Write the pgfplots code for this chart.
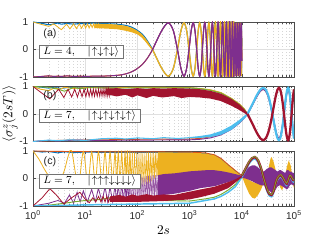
\documentclass[border=0pt]{standalone}
\usepackage{fontspec}
\setmainfont{Liberation Sans}
\usepackage{pgfplots}
\usepackage{pgfplotstable}
\pgfplotsset{compat=1.18}
\definecolor{mblue}{RGB}{0,114,189}
\definecolor{morange}{RGB}{217,83,25}
\definecolor{myellow}{RGB}{237,177,32}
\definecolor{mpurple}{RGB}{126,47,142}
\definecolor{mgreen}{RGB}{119,172,48}
\definecolor{mcyan}{RGB}{77,190,238}
\definecolor{mred}{RGB}{162,20,47}
\pgfplotstableread{
t up dn
1 1 -1
1.5 0.95 -0.98
2 0.9 -0.96
2.5 0.93 -0.98
3 0.96 -0.97
3.5 0.92 -0.98
4.5 0.95 -0.96
6 0.92 -0.98
8 0.95 -0.97
10 0.93 -0.98
14 0.96 -0.97
20 0.94 -0.97
35 0.93 -0.95
50 0.9 -0.92
65 0.86 -0.866
80 0.8 -0.8
95 0.72 -0.72
110 0.64 -0.632
125 0.55 -0.54
140 0.44 -0.43
155 0.32 -0.32
170 0.2 -0.2
195 0 0
292.5 -0.686 0.686
390 -0.97 0.97
487.5 -0.686 0.686
585 0 0
682.5 0.686 -0.686
780 0.97 -0.97
877.5 0.686 -0.686
975 0 0
1072.5 -0.686 0.686
1170 -0.97 0.97
1267.5 -0.686 0.686
1365 0 0
1462.5 0.686 -0.686
1560 0.97 -0.97
1657.5 0.686 -0.686
1755 0 0
1852.5 -0.686 0.686
1950 -0.97 0.97
2047.5 -0.686 0.686
2145 0 0
2242.5 0.686 -0.686
2340 0.97 -0.97
2437.5 0.686 -0.686
2535 0 0
2632.5 -0.686 0.686
2730 -0.97 0.97
2827.5 -0.686 0.686
2925 0 0
3022.5 0.686 -0.686
3120 0.97 -0.97
3217.5 0.686 -0.686
3315 0 0
3412.5 -0.686 0.686
3510 -0.97 0.97
3607.5 -0.686 0.686
3705 0 0
3802.5 0.686 -0.686
3900 0.97 -0.97
3997.5 0.686 -0.686
4095 0 0
4192.5 -0.686 0.686
4290 -0.97 0.97
4387.5 -0.686 0.686
4485 0 0
4582.5 0.686 -0.686
4680 0.97 -0.97
4777.5 0.686 -0.686
4875 0 0
4972.5 -0.686 0.686
5070 -0.97 0.97
5167.5 -0.686 0.686
5265 0 0
5362.5 0.686 -0.686
5460 0.97 -0.97
5557.5 0.686 -0.686
5655 0 0
5752.5 -0.686 0.686
5850 -0.97 0.97
5947.5 -0.686 0.686
6045 0 0
6142.5 0.686 -0.686
6240 0.97 -0.97
6337.5 0.686 -0.686
6435 0 0
6532.5 -0.686 0.686
6630 -0.97 0.97
6727.5 -0.686 0.686
6825 0 0
6922.5 0.686 -0.686
7020 0.97 -0.97
7117.5 0.686 -0.686
7215 0 0
7312.5 -0.686 0.686
7410 -0.97 0.97
7507.5 -0.686 0.686
7605 0 0
7702.5 0.686 -0.686
7800 0.97 -0.97
7897.5 0.686 -0.686
7995 0 0
8092.5 -0.686 0.686
8190 -0.97 0.97
8287.5 -0.686 0.686
8385 0 0
8482.5 0.686 -0.686
8580 0.97 -0.97
8677.5 0.686 -0.686
8775 0 0
8872.5 -0.686 0.686
8970 -0.97 0.97
9067.5 -0.686 0.686
9165 0 0
9262.5 0.686 -0.686
9360 0.97 -0.97
9457.5 0.686 -0.686
9555 0 0
9652.5 -0.686 0.686
9750 -0.97 0.97
9847.5 -0.686 0.686
9945 0 0
10000 0.416 -0.416
}\tabA
\pgfplotstableread{
t r c p
12850 0 0 0
16062.5 -0.364 0.364 0.345
19275 -0.672 0.672 0.636
22487.5 -0.878 0.878 0.832
25700 -0.95 0.95 0.9
28912.5 -0.878 0.878 0.832
32125 -0.672 0.672 0.636
35337.5 -0.364 0.364 0.345
38550 0 0 0
41762.5 0.364 -0.364 -0.345
44975 0.672 -0.672 -0.636
48187.5 0.878 -0.878 -0.832
51400 0.95 -0.95 -0.9
54612.5 0.878 -0.878 -0.832
57825 0.672 -0.672 -0.636
61037.5 0.364 -0.364 -0.345
64250 0 0 0
67462.5 -0.364 0.364 0.345
70675 -0.672 0.672 0.636
73887.5 -0.878 0.878 0.832
77100 -0.95 0.95 0.9
80312.5 -0.878 0.878 0.832
83525 -0.672 0.672 0.636
86737.5 -0.364 0.364 0.345
89950 0 0 0
93162.5 0.364 -0.364 -0.345
96375 0.672 -0.672 -0.636
99587.5 0.878 -0.878 -0.832
100000 0.895 -0.895 -0.848
}\tabB
\pgfplotstableread{
t v g c
10000 0.1 0.11 0.05
11750 0.35 0.37 0.29
13800 0.6 0.62 0.54
15850 0.74 0.76 0.68
17780 0.78 0.8 0.72
20420 0.66 0.68 0.6
23440 0.36 0.38 0.3
26300 0.0 0.02 -0.06
30200 -0.38 -0.36 -0.44
33880 -0.57 -0.55 -0.63
37150 -0.6 -0.58 -0.66
40740 -0.45 -0.43 -0.51
44670 -0.15 -0.13 -0.21
47860 0.0 0.02 -0.06
52480 0.1 0.12 0.04
56230 0.12 0.14 0.06
61660 0.02 0.04 -0.04
67610 -0.12 -0.1 -0.18
72440 -0.19 -0.17 -0.25
77620 -0.05 -0.03 -0.11
83180 0.1 0.12 0.04
89130 0.05 0.07 -0.01
95500 -0.05 -0.03 -0.11
100000 -0.08 -0.06 -0.14
}\tabP
\begin{document}
\begin{tikzpicture}
\useasboundingbox (0pt,0pt) rectangle (245.25pt,183.75pt);
% ---------------- (a)
\begin{axis}[xmode=log, xmin=1, xmax=100000, ymin=-1, ymax=1,
  anchor=south west, at={(24.75pt,126pt)}, scale only axis, width=195.75pt, height=41.25pt,
  xtick={1,10,100,1000,10000,100000}, xticklabels={},
  ytick={-1,0,1}, yticklabels={-1,0,1},
  grid=both,
  major grid style={draw=black!12, line width=0.3pt},
  minor grid style={draw=black!16, line width=0.3pt, dotted},
  axis line style={draw=black!70, line width=0.5pt},
  tick style={draw=black!70, line width=0.4pt},
  major tick length=2.4pt, minor tick length=1.4pt,
  tick label style={font=\fontsize{7.5}{8}\selectfont, text=black!85}]
\addplot[mblue, line width=0.8pt, smooth] table[x=t,y=up]{\tabA};
\addplot[morange, line width=0.8pt, smooth] table[x=t,y=dn]{\tabA};
\addplot[myellow, line width=0.6pt] coordinates {(1,1) (1.4,0.92) (2,0.84) (2.5,0.93) (3.5,0.72) (4.4,0.92) (5.1,0.75) (6,0.93) (6.8,0.76) (7.7,0.93) (8.5,0.77) (9.4,0.93) (10.2,0.78) (11.1,0.93) (11.9,0.78) (12.8,0.93) (13.6,0.8) (14.5,0.93) (15.3,0.8) (16.2,0.93) (17,0.8) (18,0.93) (19,0.8) (20,0.93)};
\addplot[fill=myellow, draw=none] coordinates {(15,0.93) (25,0.93) (40,0.91) (60,0.86) (80,0.78) (100,0.68) (120,0.57) (140,0.43) (160,0.28) (180,0.12) (195,0.02) (195,-0.04) (180,0.04) (160,0.16) (140,0.3) (120,0.44) (100,0.55) (80,0.62) (60,0.68) (40,0.74) (25,0.76) (15,0.78)};
\addplot[myellow, line width=1.0pt, smooth, skip coords between index={0}{22}] table[x=t,y=up]{\tabA};
\addplot[mpurple, line width=0.7pt, smooth] table[x=t,y=dn]{\tabA};
\addplot[mpurple, line width=0.85pt, smooth, skip coords between index={0}{22}] table[x=t,y=dn]{\tabA};
\node[font=\fontsize{8}{9}\selectfont, text=black!85] at (rel axis cs:0.065,0.78) {(a)};
\node[draw=black!55, fill=white, line width=0.5pt, font=\fontsize{8}{9}\selectfont, inner xsep=3pt, inner ysep=1pt, anchor=west, minimum height=10pt] at (rel axis cs:0.023,0.46) {$L=4,\quad|\!\uparrow\downarrow\uparrow\downarrow\rangle$\hspace{5pt}};
\end{axis}
% ---------------- (b)
\begin{axis}[xmode=log, xmin=1, xmax=100000, ymin=-1, ymax=1,
  anchor=south west, at={(24.75pt,77.625pt)}, scale only axis, width=195.75pt, height=41.25pt,
  xtick={1,10,100,1000,10000,100000}, xticklabels={},
  ytick={-1,0,1}, yticklabels={-1,0,1},
  grid=both,
  major grid style={draw=black!12, line width=0.3pt},
  minor grid style={draw=black!16, line width=0.3pt, dotted},
  axis line style={draw=black!70, line width=0.5pt},
  tick style={draw=black!70, line width=0.4pt},
  major tick length=2.4pt, minor tick length=1.4pt,
  tick label style={font=\fontsize{7.5}{8}\selectfont, text=black!85},
  ylabel={$\langle\sigma_j^z(2sT)\rangle$},
  ylabel style={at={(axis description cs:-0.088,0.5)}, anchor=center, font=\fontsize{10}{12}\selectfont}]
\addplot[mblue, line width=0.7pt] coordinates {(1,1) (1.5,0.97) (2,0.94) (2.5,0.97) (3.5,0.93) (5,0.97) (7,0.95) (10,0.97) (20,0.96) (100,0.96) (1000,0.95) (1585,0.92) (2512,0.87) (3981,0.77) (6310,0.56) (8913,0.36) (11220,0.17) (12850,0)};
\addplot[mblue, line width=0.7pt, smooth] table[x=t,y=r]{\tabB};
\addplot[morange, line width=0.7pt] coordinates {(1,-1) (2,-0.97) (5,-0.95) (20,-0.94) (100,-0.92) (1000,-0.91) (1585,-0.89) (2512,-0.83) (3981,-0.71) (6310,-0.5) (8913,-0.3) (11220,-0.12) (12850,0)};
\addplot[morange, line width=0.7pt, smooth] table[x=t,y=p]{\tabB};
\addplot[myellow, line width=0.7pt] coordinates {(1,1) (1.4,0.9) (2,0.85) (2.6,0.95) (3.3,0.9) (4,0.97) (6,0.93) (10,0.96) (30,0.95) (100,0.97) (1000,0.96) (1585,0.93) (2512,0.88) (3981,0.78) (6310,0.57) (8913,0.37) (11220,0.18) (12850,0)};
\addplot[myellow, line width=0.7pt, smooth] table[x=t,y=r]{\tabB};
\addplot[mpurple, line width=0.7pt] coordinates {(1,-1) (2,-0.96) (3,-0.98) (6,-0.95) (20,-0.96) (100,-0.95) (1000,-0.94) (1585,-0.92) (2512,-0.87) (3981,-0.76) (6310,-0.56) (8913,-0.34) (11220,-0.14) (12850,0)};
\addplot[mpurple, line width=1.2pt, smooth] table[x=t,y=p]{\tabB};
\addplot[mgreen, line width=0.7pt] coordinates {(1,1) (2,0.97) (3,0.9) (4,0.83) (5,0.9) (6,0.97) (8,0.92) (12,0.96) (30,0.94) (100,0.95) (1000,0.95) (1585,0.92) (2512,0.86) (3981,0.76) (6310,0.55) (8913,0.35) (11220,0.16) (12850,0)};
\addplot[mcyan, line width=0.8pt] coordinates {(1,-1) (1.5,-0.97) (2,-0.95) (3,-0.97) (5,-0.94) (10,-0.96) (20,-0.9) (40,-0.88) (60,-0.91) (100,-0.87) (200,-0.9) (316,-0.86) (600,-0.89) (1000,-0.86)};
\addplot[fill=mcyan, draw=none] coordinates {(1000,-0.84) (1585,-0.8) (2512,-0.74) (3981,-0.62) (6310,-0.42) (8913,-0.22) (11220,-0.06) (12850,0.03) (12850,-0.05) (11220,-0.17) (8913,-0.35) (6310,-0.58) (3981,-0.76) (2512,-0.84) (1585,-0.87) (1000,-0.88)};
\addplot[mcyan, line width=1.6pt, smooth] table[x=t,y=c]{\tabB};
\addplot[mred, line width=0.6pt] coordinates {(1,1) (1.5,0.75) (2.1,0.55) (3.1,0.9) (3.9,0.6) (4.7,0.9) (5.5,0.62) (6.3,0.9) (7.1,0.62) (7.9,0.9) (8.7,0.63) (9.5,0.9) (10.3,0.63) (11.1,0.9) (11.9,0.64) (12.7,0.9) (13.5,0.64) (14.3,0.9) (15.1,0.65) (16,0.9) (17,0.65) (18,0.9) (19,0.65) (20,0.9) (21,0.66) (22,0.9) (23,0.66) (24,0.91) (25,0.67) (26,0.91) (27,0.67) (28,0.91) (29,0.68) (30,0.91)};
\addplot[fill=mred, draw=none] coordinates {(25,0.92) (40,0.94) (60,0.9) (100,0.94) (150,0.91) (200,0.94) (316,0.92) (500,0.94) (1000,0.92) (1585,0.9) (2512,0.84) (3981,0.74) (6310,0.55) (8913,0.35) (11220,0.16) (12850,0.04) (12850,-0.04) (11220,0.03) (8913,0.15) (6310,0.3) (3981,0.47) (2512,0.56) (1585,0.6) (1000,0.62) (700,0.58) (500,0.65) (300,0.6) (200,0.66) (150,0.58) (100,0.68) (80,0.6) (60,0.7) (40,0.64) (25,0.72)};
\addplot[mred, line width=1.7pt, smooth] table[x=t,y=r]{\tabB};
\node[font=\fontsize{8}{9}\selectfont, text=black!85] at (rel axis cs:0.065,0.83) {(b)};
\node[draw=black!55, fill=white, line width=0.5pt, font=\fontsize{8}{9}\selectfont, inner xsep=3pt, inner ysep=1pt, anchor=west, minimum height=10pt] at (rel axis cs:0.023,0.465) {$L=7,\quad|\!\uparrow\downarrow\uparrow\downarrow\uparrow\downarrow\uparrow\rangle$\hspace{5pt}};
\end{axis}
% ---------------- (c)
\begin{axis}[xmode=log, xmin=1, xmax=100000, ymin=-1, ymax=1,
  anchor=south west, at={(24.75pt,29.25pt)}, scale only axis, width=195.75pt, height=41.25pt,
  xtick={1,10,100,1000,10000,100000},
  xticklabels={10\textsuperscript{0},10\textsuperscript{1},10\textsuperscript{2},10\textsuperscript{3},10\textsuperscript{4},10\textsuperscript{5}},
  ytick={-1,0,1}, yticklabels={-1,0,1},
  grid=both,
  major grid style={draw=black!12, line width=0.3pt},
  minor grid style={draw=black!16, line width=0.3pt, dotted},
  axis line style={draw=black!70, line width=0.5pt},
  tick style={draw=black!70, line width=0.4pt},
  major tick length=2.4pt, minor tick length=1.4pt,
  tick label style={font=\fontsize{7.5}{8}\selectfont, text=black!85},
  xlabel={$2s$},
  xlabel style={at={(axis description cs:0.5,0)}, anchor=center, yshift=-18pt, font=\fontsize{10}{12}\selectfont}]
\addplot[mblue, line width=0.7pt] coordinates {(1,1) (1.5,0.96) (2,0.98) (3,0.93) (4,0.97) (6,0.94) (10,0.96) (20,0.95) (100,0.95) (1000,0.94) (2000,0.91) (3000,0.84) (4000,0.7) (5500,0.48) (7500,0.27) (10000,0.09)};
\addplot[mblue, line width=0.7pt, smooth] table[x=t,y=v]{\tabP};
\addplot[morange, line width=0.7pt] coordinates {(1,1) (2,0.99) (5,0.98) (20,0.97) (100,0.97) (1000,0.96) (2000,0.93) (3000,0.86) (4000,0.73) (5500,0.5) (7500,0.29) (10000,0.1)};
\addplot[morange, line width=0.7pt, smooth] table[x=t,y=v]{\tabP};
\addplot[myellow, line width=0.6pt, smooth] coordinates {(1,1) (1.3,0.7) (1.7,0.3) (2.3,-0.05) (3.2,-0.1) (4,0.3) (4.7,0.8) (5.5,1.0) (7.35,-0.25) (9.2,0.98) (11.25,-0.2) (13.3,0.97) (15.6,-0.2) (17.9,0.97) (21,-0.15) (24,0.96) (27,-0.15) (29.9,0.96) (33.6,-0.1) (37.3,0.95) (40,-0.1) (43,0.95) (46.5,-0.1) (50,0.95) (54,-0.1) (58,0.95) (61,-0.1) (64.3,0.95) (68,-0.15) (72,0.95) (76,-0.2) (80,0.95)};
\addplot[myellow, line width=0.4pt] coordinates {(80,0.95) (84,-0.2) (88,0.95) (92.5,-0.25) (97,0.95) (102,-0.25) (107,0.95) (112,-0.25) (117,0.95) (122,-0.25) (127,0.95) (133,-0.25) (139,0.95) (145,-0.2) (151,0.95) (157,-0.2) (163,0.95) (170,-0.15) (177,0.95) (184,-0.1) (191,0.95) (198,-0.05) (205,0.95) (213,0.0) (221,0.95) (229,0.05) (237,0.95) (245,0.1) (253,0.95)};
\addplot[fill=myellow, draw=none] coordinates {(250,0.95) (1000,0.94) (2000,0.91) (3000,0.84) (4000,0.7) (5500,0.47) (7500,0.26) (10000,0.08) (10000,0.0) (7500,0.0) (250,0.0)};
\addplot[fill=myellow, draw=none] coordinates {(10000,0.08) (11750,-0.25) (13800,-0.55) (15850,-0.7) (17780,-0.73) (20420,-0.6) (23440,-0.4) (26300,-0.15) (30200,0.0) (26300,-0.05) (23440,-0.1) (20420,-0.15) (17780,-0.15) (15850,-0.12) (13800,-0.05)};
\addplot[fill=myellow, draw=none] coordinates {(30200,0.0) (33110,0.45) (35480,0.72) (37150,0.78) (40740,0.6) (44670,0.3) (46770,0.0) (40740,0.1) (37150,0.15) (33110,0.1)};
\addplot[fill=myellow, draw=none] coordinates {(50120,0.0) (53700,-0.3) (58880,-0.43) (63100,-0.3) (67610,0.0) (58880,-0.1) (53700,-0.08)};
\addplot[fill=myellow, draw=none] coordinates {(67610,0.0) (72440,0.4) (79430,0.66) (87100,0.45) (93330,0.0) (87100,0.1) (79430,0.15) (72440,0.1)};
\addplot[fill=myellow, draw=none] coordinates {(93330,0.0) (96600,-0.25) (100000,-0.35) (100000,-0.05) (96600,-0.05)};
\addplot[mpurple, line width=0.6pt] coordinates {(1,-1) (2,-0.9) (3,-0.8) (4,-0.9) (5,-0.6) (6,-0.9) (7,-0.5) (8,-0.85) (9.2,-0.45) (11,-0.85) (13.3,-0.4) (15.6,-0.85) (17.9,-0.35) (21,-0.85) (24,-0.3) (27,-0.85) (29.9,-0.3) (33.6,-0.85) (37.3,-0.25) (40,-0.85) (43,-0.2) (46.5,-0.85) (50,-0.15) (54,-0.85) (58,-0.1) (61,-0.85) (64.3,-0.05) (68,-0.85) (72,0.0)};
\addplot[mpurple!80, line width=0.4pt] coordinates {(72,0.0) (76,-0.85) (80,0.0) (84,-0.85) (88,0.02) (92.5,-0.85) (97,0.03) (102,-0.82) (107,0.05) (112,-0.8) (117,0.06) (122,-0.8) (127,0.07) (133,-0.78) (139,0.08) (145,-0.76) (151,0.09) (157,-0.74) (163,0.1) (170,-0.72) (177,0.1) (184,-0.7) (191,0.11) (198,-0.68) (205,0.11) (213,-0.66) (221,0.12) (229,-0.64) (237,0.12) (245,-0.62) (253,0.12)};
\addplot[fill=mpurple, draw=none] coordinates {(250,0.12) (316,0.16) (525,0.19) (1000,0.26) (2000,0.3) (3000,0.3) (4000,0.27) (5500,0.22) (7500,0.16) (10000,0.1) (10000,0.04) (7500,-0.05) (5500,-0.13) (3000,-0.28) (1600,-0.35) (1000,-0.45) (525,-0.55) (316,-0.6) (250,-0.6)};
\addplot[fill=mpurple, draw=none] coordinates {(10000,0.12) (11750,0.3) (13800,0.42) (15850,0.48) (17780,0.48) (20420,0.4) (23440,0.3) (26300,0.25) (30200,0.35) (33880,0.4) (37150,0.4) (40740,0.35) (44670,0.3) (47860,0.25) (52480,0.3) (56230,0.3) (61660,0.25) (67610,0.2) (72440,0.3) (77620,0.3) (83180,0.25) (89130,0.25) (95500,0.2) (100000,0.2) (100000,-0.25) (95500,-0.25) (89130,-0.2) (83180,-0.25) (77620,-0.35) (72440,-0.4) (67610,-0.35) (61660,-0.3) (56230,-0.25) (52480,-0.25) (47860,-0.3) (44670,-0.4) (40740,-0.5) (37150,-0.52) (33880,-0.45) (30200,-0.35) (26300,-0.25) (23440,-0.25) (20420,-0.2) (17780,-0.15) (15850,-0.1) (13800,-0.05) (11750,0.0) (10000,0.02)};
\addplot[mgreen, line width=0.7pt] coordinates {(1,-1) (2,-0.97) (4,-0.9) (6,-0.85) (10,-0.8) (20,-0.76) (30,-0.7) (40,-0.78) (100,-0.8) (316,-0.8) (1000,-0.82) (2000,-0.74) (3000,-0.68) (4000,-0.58) (5500,-0.42) (7500,-0.22) (10000,0.06)};
\addplot[mcyan, line width=1.1pt] coordinates {(1,-1) (3,-0.98) (10,-0.96) (100,-0.93) (1000,-0.9) (2000,-0.8) (3000,-0.74) (4000,-0.65) (5500,-0.5) (7500,-0.3) (10000,0.04)};
\addplot[mcyan, line width=1.3pt, smooth] table[x=t,y=c]{\tabP};
\addplot[mred, line width=0.6pt] coordinates {(1,-1) (1.5,-0.7) (2.1,-0.37) (2.8,-0.6) (3.9,-0.93) (5.5,-0.7) (7.9,-0.5) (10,-0.75) (12,-0.88) (14,-0.7) (16,-0.85) (18,-0.65) (20,-0.85) (22,-0.65) (24,-0.85) (26,-0.65) (28,-0.85) (30,-0.7)};
\addplot[fill=mred, draw=none] coordinates {(30,-0.65) (45,-0.6) (60,-0.66) (80,-0.58) (100,-0.63) (150,-0.57) (200,-0.62) (316,-0.58) (500,-0.6) (1000,-0.48) (1600,-0.4) (3000,-0.3) (5500,-0.13) (7500,-0.03) (10000,0.1) (10000,0.04) (7500,-0.15) (5500,-0.35) (3000,-0.55) (1600,-0.68) (1000,-0.76) (316,-0.82) (100,-0.85) (30,-0.85)};
\addplot[mred, line width=1.8pt, smooth] table[x=t,y=v]{\tabP};
\addplot[mgreen, line width=0.6pt, smooth] table[x=t,y=g]{\tabP};
\node[font=\fontsize{8}{9}\selectfont, text=black!85] at (rel axis cs:0.065,0.81) {(c)};
\node[draw=black!55, fill=white, line width=0.5pt, font=\fontsize{8}{9}\selectfont, inner xsep=3pt, inner ysep=1pt, anchor=west, minimum height=10pt] at (rel axis cs:0.023,0.45) {$L=7,\quad|\!\uparrow\uparrow\uparrow\downarrow\downarrow\downarrow\downarrow\rangle$\hspace{5pt}};
\end{axis}
\end{tikzpicture}
\end{document}
